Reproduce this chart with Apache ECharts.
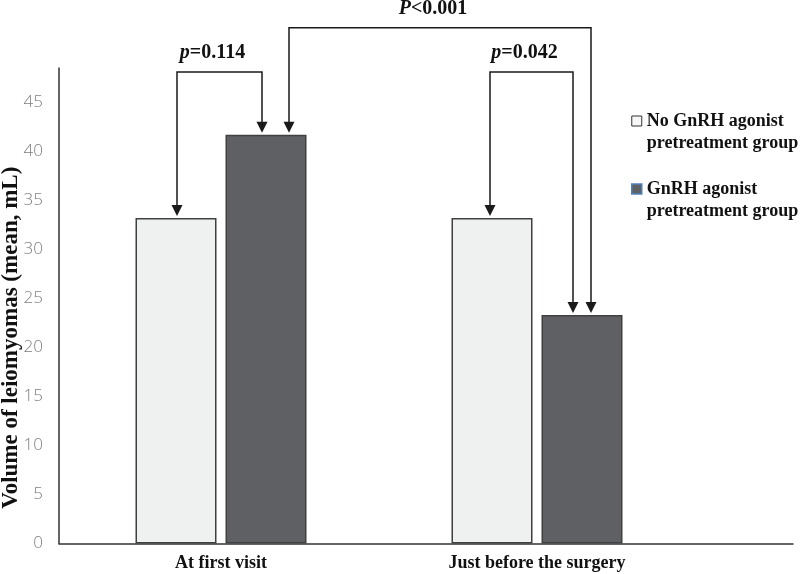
<!DOCTYPE html>
<html>
<head>
<meta charset="utf-8">
<script src="https://cdn.jsdelivr.net/npm/echarts@6/dist/echarts.min.js"></script>
<style>html,body{margin:0;padding:0;background:#fff}#chart{width:800px;height:574px}</style>
</head>
<body>
<div id="chart"></div>
<script>
// ---- data ----
const categories = ['At first visit', 'Just before the surgery'];
const seriesNames = ['No GnRH agonist\npretreatment group', 'GnRH agonist\npretreatment group'];
const noPretreatment = [33.2, 33.2];
const withPretreatment = [41.7, 23.3];
const yTicks = [0, 5, 10, 15, 20, 25, 30, 35, 40, 45];
const yMax = 48.5;
const yAxisTitle = 'Volume of leiomyomas (mean, mL)';

// annotations: comparison brackets between bars [category, series]
const annLabelsItalic = ['p', 'P', 'p'];
const annLabelsRest = ['=0.114', '<0.001', '=0.042'];
const annFrom = [[0, 0], [0, 1], [1, 0]];
const annTo = [[0, 1], [1, 1], [1, 1]];
const annLevel = [48.1, 52.6, 48.1];

// ---- style ----
const annNudge = [[1, -4], [23, 9], [-2, -9]]; // px nudges of bracket legs from bar centres
const barWidth = 81, barGapPx = 9;
const seriesValues = [noPretreatment, withPretreatment];
const serif = 'Liberation Serif';
// legend icon: 10x10 square at the top of a taller (32px) box so it lines up with the first text line
const legendIcon = 'path://M0,0h10v10h-10z M0,32';

const chart = echarts.init(document.getElementById('chart'));

function renderAnnotation(params, api) {
  const i = params.dataIndex;
  const half = (barWidth + barGapPx) / 2;
  function leg(ref, nudge) {
    const cat = ref[0], ser = ref[1];
    const v = seriesValues[ser][cat];
    const p = api.coord([cat, v]);
    return [p[0] + (ser === 0 ? -half : half) + nudge, p[1]];
  }
  const a = leg(annFrom[i], annNudge[i][0]);
  const b = leg(annTo[i], annNudge[i][1]);
  const yL = api.coord([annFrom[i][0], annLevel[i]])[1];
  const head = 11, hw = 5.5;
  const tipA = a[1] - 2, tipB = b[1] - 2;
  const stroke = '#1a1a1a';
  const mid = (a[0] + b[0]) / 2 - 7;
  return {
    type: 'group',
    children: [
      { type: 'polyline', shape: { points: [[a[0], tipA - head + 1], [a[0], yL], [b[0], yL], [b[0], tipB - head + 1]] },
        style: { stroke: stroke, lineWidth: 1.5, fill: null } },
      { type: 'polygon', shape: { points: [[a[0] - hw, tipA - head], [a[0] + hw, tipA - head], [a[0], tipA]] }, style: { fill: stroke } },
      { type: 'polygon', shape: { points: [[b[0] - hw, tipB - head], [b[0] + hw, tipB - head], [b[0], tipB]] }, style: { fill: stroke } },
      { type: 'text', x: mid, y: yL - 9,
        style: { text: '{i|' + annLabelsItalic[i] + '}{b|' + annLabelsRest[i] + '}', align: 'center', verticalAlign: 'bottom',
          rich: {
            i: { fontFamily: serif, fontSize: 20, fontWeight: 'bold', fontStyle: 'italic', fill: '#111' },
            b: { fontFamily: serif, fontSize: 20, fontWeight: 'bold', fill: '#111' }
          } } }
    ]
  };
}

const option = {
  animation: false,
  backgroundColor: '#fff',
  grid: [
    { left: 63, right: 105, top: 68, bottom: 30.5, outerBoundsMode: 'none', containLabel: false },
    { left: 59, right: 7, top: 68, bottom: 30.5, outerBoundsMode: 'none', containLabel: false }
  ],
  legend: {
    orient: 'vertical', left: 631, top: 110, padding: 0, itemGap: 24,
    itemWidth: 10, itemHeight: 32, icon: legendIcon,
    textStyle: { fontFamily: serif, fontWeight: 'bold', fontSize: 18, lineHeight: 22, color: '#111' },
    data: [
      { name: seriesNames[0], itemStyle: { color: '#f7f7f7', borderColor: '#333', borderWidth: 1 } },
      { name: seriesNames[1], itemStyle: { color: '#5f6064', borderColor: '#4f81bd', borderWidth: 1.5 } }
    ]
  },
  xAxis: [
    { type: 'category', gridIndex: 0, data: categories,
      axisLine: { show: false }, axisTick: { show: false },
      axisLabel: { margin: 11, fontFamily: serif, fontWeight: 'bold', fontSize: 18, color: '#111' } },
    { type: 'value', gridIndex: 1, min: 0, max: 1,
      axisLine: { show: true, lineStyle: { color: '#333', width: 1.5 } },
      axisTick: { show: false }, axisLabel: { show: false }, splitLine: { show: false } }
  ],
  yAxis: [
    { type: 'value', gridIndex: 0, min: yTicks[0], max: yMax, interval: yTicks[1] - yTicks[0], offset: 4,
      axisLine: { show: true, lineStyle: { color: '#333', width: 1.5 } },
      axisTick: { show: false }, splitLine: { show: false },
      axisLabel: { showMaxLabel: false, margin: 16, fontFamily: 'Open Sans', fontWeight: 300, fontSize: 17, color: '#7f7f7f' },
      name: yAxisTitle, nameLocation: 'middle', nameRotate: 90, nameGap: 36, nameMoveOverlap: false,
      nameTextStyle: { fontFamily: serif, fontWeight: 'bold', fontSize: 23, color: '#111', padding: [0, 64, 0, 0] } },
    { type: 'value', gridIndex: 1, show: false, min: 0, max: 1 }
  ],
  series: [
    { name: seriesNames[0], type: 'bar', xAxisIndex: 0, yAxisIndex: 0, data: noPretreatment,
      barWidth: barWidth, barGap: (barGapPx / barWidth * 100) + '%',
      itemStyle: { color: '#eff0f0', borderColor: '#404040', borderWidth: 1.5 } },
    { name: seriesNames[1], type: 'bar', xAxisIndex: 0, yAxisIndex: 0, data: withPretreatment,
      barWidth: barWidth, barGap: (barGapPx / barWidth * 100) + '%',
      itemStyle: { color: '#5f6064', borderColor: '#404040', borderWidth: 1.5 } },
    { type: 'custom', xAxisIndex: 0, yAxisIndex: 0, silent: true, clip: false, z: 5,
      data: annLevel.map((v, i) => [annFrom[i][0], v]),
      renderItem: renderAnnotation }
  ]
};
chart.setOption(option);
</script>
</body>
</html>
